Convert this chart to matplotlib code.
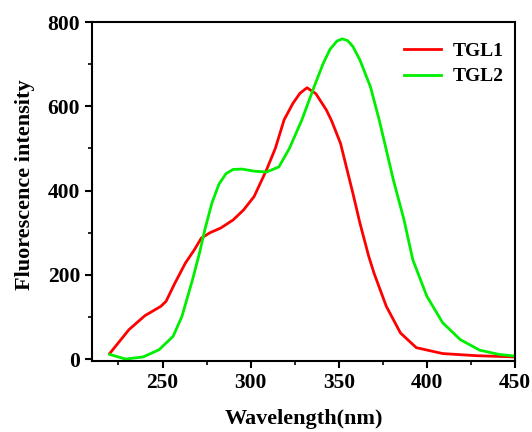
import matplotlib.pyplot as plt
from matplotlib.ticker import MultipleLocator

# values
wl_tgl1 = [220, 231, 240, 249, 252, 257, 263, 268, 272, 277, 283, 290, 296, 302,
           309, 314, 319, 324, 328, 332, 337, 343, 346, 351, 358, 362, 367, 370,
           377, 385, 394, 409, 428, 450]
int_tgl1 = [13, 70, 103, 125, 137, 180, 228, 259, 287, 300, 311, 330, 354, 386,
            449, 500, 568, 607, 631, 644, 630, 591, 565, 512, 394, 323, 244, 204,
            125, 62, 27, 13, 8, 5]

wl_tgl2 = [220, 229, 239, 248, 256, 261, 267, 271, 274, 278, 282, 286, 290, 295,
           302, 309, 316, 322, 329, 336, 341, 345, 349, 352, 355, 358, 362, 368,
           373, 381, 387, 392, 400, 409, 419, 430, 441, 450]
int_tgl2 = [11, 0, 5, 22, 54, 101, 188, 252, 307, 370, 415, 440, 450, 451,
            446, 444, 456, 500, 567, 646, 700, 735, 755, 760, 756, 742, 710, 646,
            567, 425, 331, 236, 149, 86, 46, 21, 11, 7]

plt.rcParams['font.family'] = 'Liberation Serif'
plt.rcParams['font.weight'] = 'bold'

fig = plt.figure(figsize=(5.32, 4.32), dpi=100)
ax = fig.add_axes([0.173, 0.164, 0.795, 0.785])

ax.plot(wl_tgl1, int_tgl1, color='#ff0000', lw=2, label='TGL1')
ax.plot(wl_tgl2, int_tgl2, color='#00ee00', lw=2, label='TGL2')

ax.set_xlim(210, 450)
ax.set_ylim(-5, 800)
ax.xaxis.set_major_locator(MultipleLocator(50))
ax.xaxis.set_minor_locator(MultipleLocator(25))
ax.yaxis.set_major_locator(MultipleLocator(200))
ax.yaxis.set_minor_locator(MultipleLocator(100))

for s in ax.spines.values():
    s.set_linewidth(1.5)
ax.tick_params(which='major', direction='out', length=5, width=1.5, labelsize=15.5)
ax.tick_params(which='minor', direction='out', length=3, width=1.2)
ax.tick_params(top=False, right=False, which='both')
for lab in ax.get_xticklabels() + ax.get_yticklabels():
    lab.set_fontweight('bold')

ax.set_xlabel('Wavelength(nm)', fontsize=16, fontweight='bold')
ax.set_ylabel('Fluorescence intensity', fontsize=16, fontweight='bold')
ax.xaxis.set_label_coords(0.5, -0.14)
ax.yaxis.set_label_coords(-0.135, 0.52)

ax.legend(loc='upper right', bbox_to_anchor=(0.992, 0.963), frameon=False,
          handlelength=1.9, handletextpad=0.6, labelspacing=0.4, borderaxespad=0,
          prop={'weight': 'bold', 'size': 14})

fig.savefig('out.png', dpi=100)
